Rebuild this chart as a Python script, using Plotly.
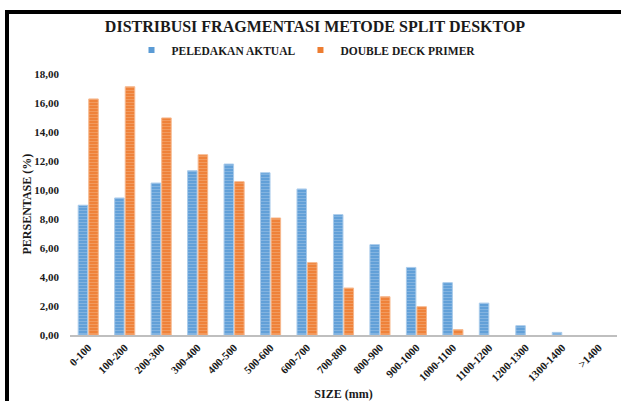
import plotly.graph_objects as go

# Size classes (mm) and fragment distribution percentages
size_classes = ["0-100", "100-200", "200-300", "300-400", "400-500", "500-600",
                "600-700", "700-800", "800-900", "900-1000", "1000-1100",
                "1100-1200", "1200-1300", "1300-1400", ">1400"]
peledakan_aktual = [8.95, 9.45, 10.48, 11.33, 11.79, 11.19, 10.07, 8.30,
                    6.23, 4.66, 3.61, 2.20, 0.64, 0.18, 0.0]
double_deck_primer = [16.28, 17.12, 14.97, 12.43, 10.57, 8.07, 4.99, 3.24,
                      2.64, 1.95, 0.37, 0.0, 0.0, 0.0, 0.0]
y_ticks = [0, 2, 4, 6, 8, 10, 12, 14, 16, 18]

FONT = "Liberation Serif"
TEXT = "#1a1a1a"
BLUE, BLUE_LIGHT = "#5B9BD5", "#A9CBEB"
ORANGE, ORANGE_LIGHT = "#ED7D31", "#F6B78C"

fig = go.Figure()


def striped_bar(name, values, base, light):
    return go.Bar(
        name=name, x=size_classes, y=values, showlegend=False,
        marker=dict(
            color=base,
            # no outline on empty classes so nothing shows at zero
            line=dict(color=light, width=[1 if v > 0 else 0 for v in values]),
            pattern=dict(shape="-", size=3, solidity=0.45,
                         fgcolor=light, bgcolor=base, fillmode="overlay"),
        ),
    )


def legend_key(name, base):
    return go.Scatter(
        name=name, x=[None], y=[None], mode="markers",
        marker=dict(symbol="square", size=6, color=base),
    )


fig.add_trace(striped_bar("PELEDAKAN AKTUAL", peledakan_aktual, BLUE, BLUE_LIGHT))
fig.add_trace(striped_bar("DOUBLE DECK PRIMER", double_deck_primer, ORANGE, ORANGE_LIGHT))
fig.add_trace(legend_key("PELEDAKAN AKTUAL", BLUE))
fig.add_trace(legend_key("DOUBLE DECK PRIMER", ORANGE))

L, R, T, B = 70, 4, 74, 66
W, H = 621, 401
pw, ph = W - L - R, H - T - B


def px_x(px):
    return (px - L) / pw


def px_y(py):
    return (H - B - py) / ph


fig.update_layout(
    width=W, height=H,
    margin=dict(l=L, r=R, t=T, b=B, autoexpand=False),
    paper_bgcolor="white", plot_bgcolor="white",
    separators=",.",
    barmode="group", bargap=0.42, bargroupgap=0.1,
    font=dict(family=FONT, color=TEXT),
    title=dict(
        text="<b>DISTRIBUSI FRAGMENTASI METODE SPLIT DESKTOP</b>",
        font=dict(family=FONT, size=16, color=TEXT),
        x=315 / W, xanchor="center", xref="container",
        y=1 - 26 / H, yanchor="middle", yref="container",
    ),
    legend=dict(
        orientation="h", x=306 / W, xanchor="center", xref="container",
        y=1 - 50 / H, yanchor="middle", yref="container",
        font=dict(family=FONT, size=11.5, color=TEXT, weight="bold"),
        itemwidth=30, itemclick=False, itemdoubleclick=False,
    ),
    xaxis=dict(
        title=dict(text="<b>SIZE (mm)</b>", font=dict(family=FONT, size=12),
                   standoff=8),
        automargin=False,
        tickangle=-45,
        tickfont=dict(family=FONT, size=11, weight="bold"),
        showline=True, linecolor="#BFBFBF", linewidth=2,
        showgrid=False, ticks="",
    ),
    yaxis=dict(
        automargin=False,
        range=[0, 18], tickvals=y_ticks, tickformat=".2f",
        tickfont=dict(family=FONT, size=11, weight="bold"),
        showgrid=False, zeroline=False, showline=False, ticks="",
        ticklabelstandoff=10,
    ),
    annotations=[
        dict(text="<b>PERSENTASE (%)</b>", textangle=-90,
             xref="paper", yref="paper", x=px_x(26), y=0.5,
             xanchor="center", yanchor="middle", showarrow=False,
             font=dict(family=FONT, size=12, color=TEXT)),
    ],
    shapes=[
        # heavy frame along the top and left edges
        dict(type="line", xref="paper", yref="paper",
             x0=px_x(7), x1=px_x(640), y0=px_y(12), y1=px_y(12),
             line=dict(color="black", width=4)),
        dict(type="line", xref="paper", yref="paper",
             x0=px_x(7), x1=px_x(7), y0=px_y(10), y1=px_y(420),
             line=dict(color="black", width=4)),
    ],
)

fig.write_html("out.html")
